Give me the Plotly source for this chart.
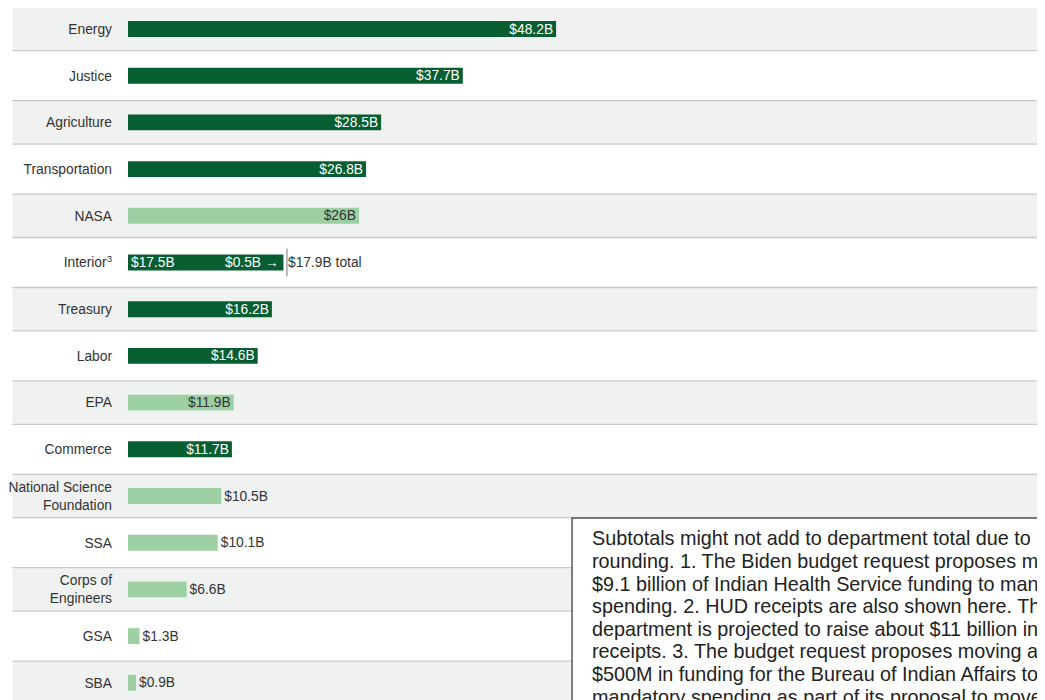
import plotly.graph_objects as go

# ---- data ----
categories = ["Energy", "Justice", "Agriculture", "Transportation", "NASA", "Interior",
              "Treasury", "Labor", "EPA", "Commerce", "National Science Foundation",
              "SSA", "Corps of Engineers", "GSA", "SBA"]
tick_labels = ["Energy", "Justice", "Agriculture", "Transportation", "NASA", "Interior<sup>3</sup>",
               "Treasury", "Labor", "EPA", "Commerce", "National Science<br>Foundation",
               "SSA", "Corps of<br>Engineers", "GSA", "SBA"]
values = [48.2, 37.7, 28.5, 26.8, 26.0, 17.5, 16.2, 14.6, 11.9, 11.7, 10.5, 10.1, 6.6, 1.3, 0.9]
value_labels = ["$48.2B", "$37.7B", "$28.5B", "$26.8B", "$26B", "$17.5B", "$16.2B", "$14.6B",
                "$11.9B", "$11.7B", "$10.5B", "$10.1B", "$6.6B", "$1.3B", "$0.9B"]
kinds = ["dept", "dept", "dept", "dept", "agency", "dept", "dept", "dept", "agency", "dept",
         "agency", "agency", "agency", "agency", "agency"]
interior_moved = 0.5
interior_moved_label = "$0.5B →"
interior_total = 17.9
interior_total_label = "$17.9B total"

footnote_lines = [
    "Subtotals might not add to department total due to",
    "rounding. 1. The Biden budget request proposes moving about",
    "$9.1 billion of Indian Health Service funding to mandatory",
    "spending. 2. HUD receipts are also shown here. The",
    "department is projected to raise about $11 billion in",
    "receipts. 3. The budget request proposes moving about",
    "$500M in funding for the Bureau of Indian Affairs to",
    "mandatory spending as part of its proposal to move tribal",
]

# ---- style ----
FONT = "Liberation Sans, Arial, sans-serif"
DARK = "#075e31"
LIGHT = "#9ccfa2"
TEXT = "#333333"
BAND = "#f0f1f1"
BAND_LINE = "#c8c8c8"
INSIDE_MIN = 11  # labels go inside bars of at least this size
BAR_W = 0.34
W, H = 1037, 692
ML = 116
PW = W - ML
PITCH = 46.7
TOP_CENTER = 21
LABEL_SIZE = 13.8
NOTE_SIZE = 19.8

idx = list(range(len(categories)))
interior_i = categories.index("Interior")

dark_i = [i for i in idx if kinds[i] == "dept" and i != interior_i]
light_i = [i for i in idx if kinds[i] == "agency"]

fig = go.Figure()

fig.add_trace(go.Bar(
    y=dark_i, x=[values[i] for i in dark_i], orientation="h",
    text=[value_labels[i] for i in dark_i], textposition="inside", insidetextanchor="end",
    textfont=dict(color="white", size=LABEL_SIZE, family=FONT), constraintext="none",
    marker=dict(color=DARK, line=dict(width=0)), width=BAR_W, hoverinfo="skip"))

fig.add_trace(go.Bar(
    y=light_i, x=[values[i] for i in light_i], orientation="h",
    text=[value_labels[i] for i in light_i],
    textposition=["inside" if values[i] >= INSIDE_MIN else "outside" for i in light_i],
    insidetextanchor="end", textfont=dict(color=TEXT, size=LABEL_SIZE, family=FONT),
    constraintext="none", cliponaxis=False,
    marker=dict(color=LIGHT, line=dict(width=0)), width=BAR_W, hoverinfo="skip"))

fig.add_trace(go.Bar(
    y=[interior_i], x=[values[interior_i]], orientation="h",
    text=[value_labels[interior_i]], textposition="inside", insidetextanchor="start",
    textfont=dict(color="white", size=LABEL_SIZE, family=FONT), constraintext="none",
    marker=dict(color=DARK, line=dict(width=0)), width=BAR_W, hoverinfo="skip"))

# alternating bands
x_left = -ML / PW
shapes = []
for i in idx:
    if i % 2 == 0:
        shapes.append(dict(type="rect", xref="paper", yref="y", x0=x_left, x1=1.05,
                           y0=i - 0.465, y1=i + 0.465, fillcolor=BAND, line=dict(width=0),
                           layer="below"))
        for yy in (i - 0.465, i + 0.465):
            shapes.append(dict(type="line", xref="paper", yref="y", x0=x_left, x1=1.05,
                               y0=yy, y1=yy, line=dict(color=BAND_LINE, width=1.3),
                               layer="below"))
# interior total marker
shapes.append(dict(type="line", xref="x", yref="y", x0=interior_total, x1=interior_total,
                   y0=interior_i - 0.3, y1=interior_i + 0.3, line=dict(color="#777", width=1)))

# footnote box
box_x0 = (562 - ML) / PW
box_y1 = (H - 510) / H
shapes.append(dict(type="rect", xref="paper", yref="paper", x0=box_x0, x1=1.2,
                   y0=-0.2, y1=box_y1, fillcolor="white",
                   line=dict(color="#555", width=1.5), layer="above"))

annotations = [
    dict(x=values[interior_i], y=interior_i, xref="x", yref="y", text=interior_moved_label,
         showarrow=False, xanchor="right", xshift=-2,
         font=dict(color="white", size=LABEL_SIZE, family=FONT)),
    dict(x=interior_total, y=interior_i, xref="x", yref="y", text=interior_total_label,
         showarrow=False, xanchor="left", xshift=-1,
         font=dict(color=TEXT, size=LABEL_SIZE, family=FONT)),
]
note_x = (580 - ML) / PW
for k, line in enumerate(footnote_lines):
    yc = 530.4 + 22.6 * k
    annotations.append(dict(x=note_x, y=(H - yc) / H, xref="paper", yref="paper",
                            text=line, showarrow=False, xanchor="left", yanchor="middle",
                            align="left", font=dict(color="#222", size=NOTE_SIZE, family=FONT)))

fig.update_layout(
    width=W, height=H,
    margin=dict(l=ML, r=0, t=0, b=0),
    paper_bgcolor="white", plot_bgcolor="rgba(0,0,0,0)",
    barmode="overlay", showlegend=False,
    font=dict(family=FONT, color=TEXT, size=LABEL_SIZE),
    shapes=shapes, annotations=annotations,
    xaxis=dict(range=[0, PW / 8.92], visible=False, fixedrange=True),
    yaxis=dict(range=[(H - TOP_CENTER) / PITCH, -TOP_CENTER / PITCH], tickvals=idx,
               ticktext=tick_labels, showgrid=False, zeroline=False, showline=False,
               ticks="", ticklabelstandoff=15,
               tickfont=dict(size=LABEL_SIZE, color=TEXT, family=FONT)),
)

fig.write_html("out.html")
